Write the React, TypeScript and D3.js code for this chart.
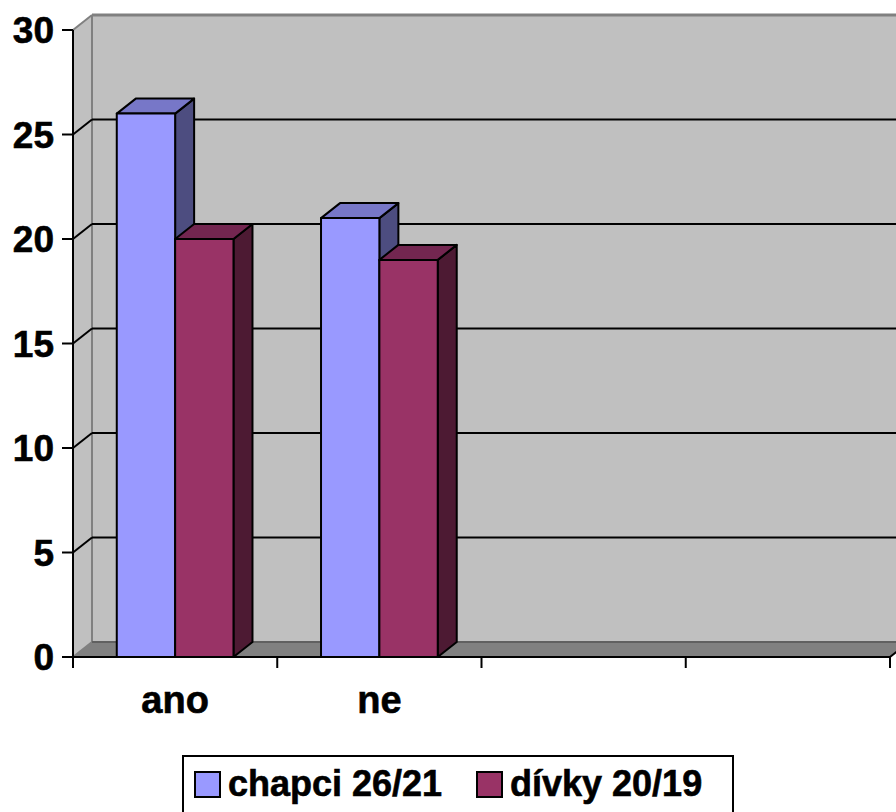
import React from "react";
import * as d3 from "d3";

const categories = ["ano", "ne", "", ""];
const seriesNames = ["chapci 26/21", "dívky 20/19"];
const chapci = [26, 21];
const divky = [20, 19];
const yTicks = [0, 5, 10, 15, 20, 25, 30];

const W = 896, H = 812;
const X0 = 73, X1 = 890, Y0 = 657, Y1 = 30;
const DX = 19, DY = -15;

const front = ["#9999FF", "#993366"];
const topC = ["#7777C8", "#732650"];
const sideC = ["#4D4D80", "#4D1A33"];

export default function App() {
  const x = d3.scaleBand<number>().domain(categories.map((_, i) => i)).range([X0, X1]).paddingInner(0).paddingOuter(0);
  const sub = d3.scaleBand<number>().domain([0, 1]).range([0, x.bandwidth()]).paddingInner(0).paddingOuter(0.75);
  const y = d3.scaleLinear().domain([0, 30]).range([Y0, Y1]);
  const values = [chapci, divky];
  const font = "'Liberation Sans', Arial, sans-serif";

  const bars: JSX.Element[] = [];
  categories.forEach((_, i) => {
    values.forEach((vals, j) => {
      const v = vals[i];
      if (v === undefined) return;
      const bx = (x(i) as number) + (sub(j) as number);
      const w = sub.bandwidth();
      const yt = y(v);
      const yb = y(0);
      bars.push(
        <g key={`b${i}-${j}`} stroke="#000" strokeWidth={2} strokeLinejoin="round">
          <polygon points={`${bx + w},${yt} ${bx + w + DX},${yt + DY} ${bx + w + DX},${yb + DY} ${bx + w},${yb}`} fill={sideC[j]} />
          <polygon points={`${bx},${yt} ${bx + DX},${yt + DY} ${bx + w + DX},${yt + DY} ${bx + w},${yt}`} fill={topC[j]} />
          <rect x={bx} y={yt} width={w} height={yb - yt} fill={front[j]} />
        </g>
      );
    });
  });

  const textStyle = { stroke: "#000", strokeWidth: 0.6 };

  return (
    <svg width={W} height={H} style={{ position: "absolute", left: 0, top: 0 }} fontFamily={font}>
      {/* walls */}
      <polygon points={`${X0 + DX},${Y1 + DY} ${X1 + DX},${Y1 + DY} ${X1 + DX},${Y0 + DY} ${X0 + DX},${Y0 + DY}`} fill="#C0C0C0" />
      <polygon points={`${X0},${Y1} ${X0 + DX},${Y1 + DY} ${X0 + DX},${Y0 + DY} ${X0},${Y0}`} fill="#C0C0C0" />
      <polygon points={`${X0},${Y0} ${X0 + DX},${Y0 + DY} ${X1 + DX},${Y0 + DY} ${X1},${Y0}`} fill="#808080" />
      {/* wall borders */}
      <line x1={X0 + DX} y1={Y1 + DY} x2={W + 20} y2={Y1 + DY} stroke="#808080" strokeWidth={3} />
      <line x1={X0} y1={Y1} x2={X0 + DX} y2={Y1 + DY} stroke="#808080" strokeWidth={2} />
      <line x1={X0 + DX} y1={Y1 + DY} x2={X0 + DX} y2={Y0 + DY} stroke="#808080" strokeWidth={2} />
      <line x1={X0} y1={Y0} x2={X0 + DX} y2={Y0 + DY} stroke="#808080" strokeWidth={2} />
      <line x1={X0 + DX} y1={Y0 + DY} x2={W + 20} y2={Y0 + DY} stroke="#606060" strokeWidth={2} />
      {/* gridlines */}
      {yTicks.filter((t) => t > 0 && t < 30).map((t) => (
        <g key={`g${t}`} stroke="#000" strokeWidth={2}>
          <line x1={X0 + DX} y1={y(t) + DY} x2={W + 20} y2={y(t) + DY} />
          <line x1={X0} y1={y(t)} x2={X0 + DX} y2={y(t) + DY} />
        </g>
      ))}
      {bars}
      {/* axes */}
      <line x1={X0} y1={Y1} x2={X0} y2={Y0} stroke="#000" strokeWidth={2} />
      <line x1={X0} y1={Y0} x2={X1} y2={Y0} stroke="#000" strokeWidth={2} />
      <line x1={X1} y1={Y0} x2={X1 + DX} y2={Y0 + DY} stroke="#000" strokeWidth={2} />
      {yTicks.map((t) => (
        <g key={`yt${t}`}>
          <line x1={X0 - 11} y1={y(t)} x2={X0} y2={y(t)} stroke="#000" strokeWidth={2} />
          <text x={54} y={y(t) + 13} textAnchor="end" fontSize={37} fontWeight="bold" fill="#000" style={textStyle}>{t}</text>
        </g>
      ))}
      {d3.range(categories.length + 1).map((i) => {
        const xx = i < categories.length ? (x(i) as number) : X1;
        return <line key={`xt${i}`} x1={xx} y1={Y0} x2={xx} y2={Y0 + 11} stroke="#000" strokeWidth={2} />;
      })}
      {categories.map((c, i) => (
        <text key={`cl${i}`} x={(x(i) as number) + x.bandwidth() / 2} y={713} textAnchor="middle" fontSize={38} fontWeight="bold" fill="#000" style={textStyle}>{c}</text>
      ))}
      {/* legend */}
      <rect x={183} y={756} width={550} height={80} fill="#fff" stroke="#000" strokeWidth={2} />
      {seriesNames.map((s, j) => {
        const lx = j === 0 ? 195 : 477;
        return (
          <g key={`lg${j}`}>
            <rect x={lx} y={772} width={25} height={25} fill={front[j]} stroke="#000" strokeWidth={2} />
            <text x={lx + 33} y={796} fontSize={36} fontWeight="bold" fill="#000" style={textStyle}>{s}</text>
          </g>
        );
      })}
    </svg>
  );
}
